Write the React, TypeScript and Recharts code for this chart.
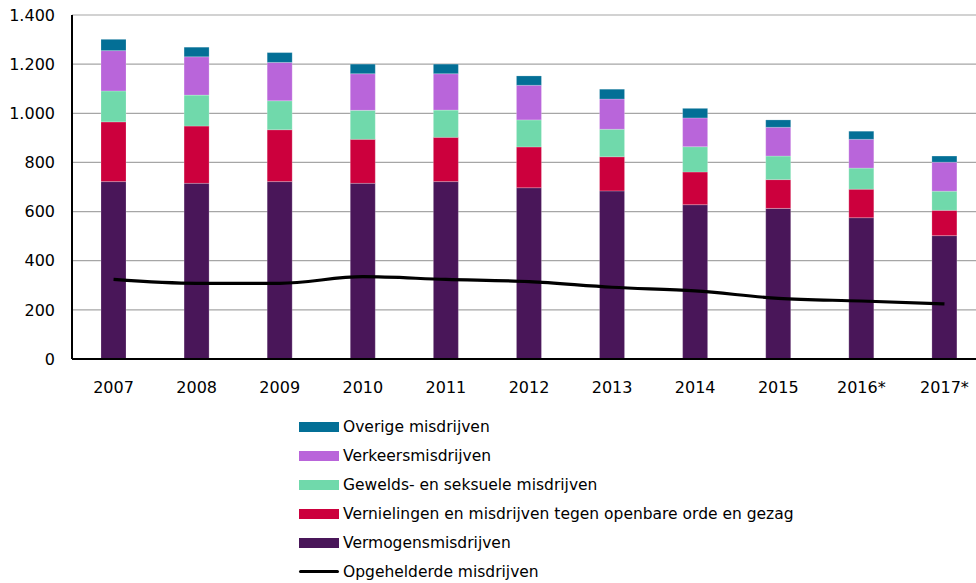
import React from "react";
import { ComposedChart, Bar, Line, XAxis, YAxis, CartesianGrid } from "recharts";

// Jaren en aantallen (x 1.000)
const years = ["2007", "2008", "2009", "2010", "2011", "2012", "2013", "2014", "2015", "2016*", "2017*"];
const vermogen = [722, 715, 722, 715, 722, 697, 684, 628, 613, 575, 502];
const vernielingen = [243, 233, 211, 179, 180, 166, 139, 133, 117, 116, 103];
const gewelds = [126, 126, 118, 118, 111, 110, 112, 103, 96, 86, 78];
const verkeer = [164, 156, 156, 149, 148, 141, 123, 117, 117, 117, 118];
const overige = [46, 39, 40, 39, 39, 38, 40, 39, 30, 33, 25];
const opgehelderd = [324, 308, 308, 335, 324, 315, 292, 277, 247, 236, 224];
const yTicks = [0, 200, 400, 600, 800, 1000, 1200, 1400];

const data = years.map((year, i) => ({
  year,
  vermogen: vermogen[i],
  vernielingen: vernielingen[i],
  gewelds: gewelds[i],
  verkeer: verkeer[i],
  overige: overige[i],
  opgehelderd: opgehelderd[i],
}));

// stacking order bottom -> top
const stacks = [
  { key: "vermogen", name: "Vermogensmisdrijven", color: "#491659" },
  { key: "vernielingen", name: "Vernielingen en misdrijven tegen openbare orde en gezag", color: "#cc003d" },
  { key: "gewelds", name: "Gewelds- en seksuele misdrijven", color: "#70d9ab" },
  { key: "verkeer", name: "Verkeersmisdrijven", color: "#b965da" },
  { key: "overige", name: "Overige misdrijven", color: "#036f96" },
];

const font = "'DejaVu Sans', Verdana, sans-serif";
const fmt = (v: number) => v.toLocaleString("nl-NL");

const App = () => {
  return (
    <div style={{ position: "absolute", left: 0, top: 0, width: 976, height: 583, overflow: "hidden", background: "#fff", fontFamily: font }}>
      <ComposedChart
        width={986}
        height={583}
        data={data}
        margin={{ top: 15, right: 0, left: 0, bottom: 194 }}
        barSize={25}
      >
        <CartesianGrid vertical={false} stroke="#a6a6a6" strokeWidth={1.2} />
        <XAxis
          dataKey="year"
          axisLine={{ stroke: "#000", strokeWidth: 2 }}
          tickLine={false}
          tickSize={0}
          tickMargin={23}
          height={30}
          tick={{ fill: "#000", fontSize: 16, fontFamily: font }}
        />
        <YAxis
          domain={[0, 1400]}
          ticks={yTicks}
          width={72}
          axisLine={{ stroke: "#000", strokeWidth: 2 }}
          tickLine={false}
          tickSize={0}
          tickMargin={17}
          tickFormatter={fmt}
          tick={{ fill: "#000", fontSize: 16, fontFamily: font }}
        />
        {stacks.map((s) => (
          <Bar
            key={s.key}
            dataKey={s.key}
            name={s.name}
            stackId="a"
            fill={s.color}
            stroke="#ffffff"
            strokeOpacity={0.35}
            strokeWidth={0.6}
            isAnimationActive={false}
          />
        ))}
        <Line
          type="monotone"
          dataKey="opgehelderd"
          name="Opgehelderde misdrijven"
          stroke="#000"
          strokeWidth={3.2}
          dot={false}
          isAnimationActive={false}
        />
      </ComposedChart>
      <div style={{ position: "absolute", left: 299, top: 412, fontSize: 15.5, color: "#000" }}>
        {[...stacks].reverse().map((s) => (
          <div key={s.key} style={{ display: "flex", alignItems: "center", height: 29 }}>
            <div style={{ width: 40, height: 10, background: s.color, marginRight: 4 }} />
            <span>{s.name}</span>
          </div>
        ))}
        <div style={{ display: "flex", alignItems: "center", height: 29 }}>
          <div style={{ width: 40, height: 3, background: "#000", marginRight: 4, borderRadius: 2 }} />
          <span>Opgehelderde misdrijven</span>
        </div>
      </div>
    </div>
  );
};

export default App;
